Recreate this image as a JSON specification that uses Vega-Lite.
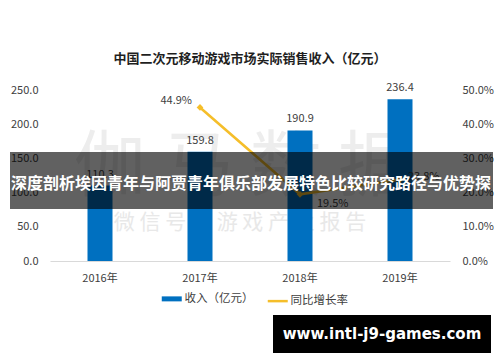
{
  "$schema": "https://vega.github.io/schema/vega-lite/v6.json",
  "width": 400,
  "height": 171,
  "autosize": "none",
  "padding": {"left": 50, "top": 90, "right": 50, "bottom": 101},
  "background": "white",
  "config": {
    "font": "Noto Sans CJK SC",
    "view": {"stroke": null},
    "axis": {"labelFont": "Noto Sans CJK SC", "labelFontSize": 11, "labelColor": "#404040", "grid": false, "ticks": false, "domain": false, "title": null, "labelOverlap": false}
  },
  "title": {"text": "中国二次元移动游戏市场实际销售收入（亿元）", "fontSize": 13, "fontWeight": "bold", "color": "#1f1f1f", "anchor": "middle", "offset": 16, "font": "Noto Sans CJK SC"},
  "data": {"values": [
    {"year": "2016年", "revenue": 110.3, "growth": null},
    {"year": "2017年", "revenue": 159.8, "growth": 0.449},
    {"year": "2018年", "revenue": 190.9, "growth": 0.195},
    {"year": "2019年", "revenue": 236.4, "growth": 0.238}
  ]},
  "layer": [
    {
      "data": {"values": [{}]},
      "mark": {"type": "text", "text": "伽 马 数 据", "fontSize": 72, "color": "#ededed", "align": "center", "baseline": "middle"},
      "encoding": {"x": {"value": 192}, "y": {"value": 78}}
    },
    {
      "data": {"values": [{}]},
      "mark": {"type": "text", "text": "微 信 号 ： 游 戏 产 业 报 告", "fontSize": 21, "color": "#e8e8e8", "align": "center", "baseline": "middle"},
      "encoding": {"x": {"value": 190}, "y": {"value": 133}}
    },
    {
      "layer": [
        {
          "mark": {"type": "bar", "size": 25},
          "encoding": {
            "x": {"field": "year", "type": "ordinal", "sort": null, "scale": {"paddingInner": 0, "paddingOuter": 0},
                  "axis": {"labelAngle": 0, "domain": true, "domainColor": "#d9d9d9", "domainWidth": 1, "labelPadding": 11, "labelFontSize": 11}},
            "y": {"field": "revenue", "type": "quantitative", "scale": {"domain": [0, 250], "nice": false},
                  "axis": {"orient": "left", "values": [0, 50, 100, 150, 200, 250], "format": ".1f", "labelPadding": 12, "labelOverlap": false, "labelFlush": false}},
            "color": {"datum": "收入（亿元）", "type": "nominal",
                      "scale": {"domain": ["收入（亿元）", "同比增长率"], "range": ["#0070C0", "#F5BE2A"]},
                      "legend": {"orient": "none", "legendX": 116, "legendY": 203, "direction": "horizontal", "title": null,
                                 "symbolType": "stroke", "symbolSize": 400, "symbolStrokeWidth": 2.5,
                                 "labelFontSize": 11.5, "labelColor": "#404040", "labelFont": "Noto Sans CJK SC",
                                 "columnPadding": 8, "labelOffset": 7,
                                 "encode": {"symbols": {"update": {
                                   "stroke": {"scale": "color", "field": "value"},
                                   "strokeWidth": {"signal": "datum.value === '收入（亿元）' ? 5 : 2.5"}}}}}}
          }
        },
        {
          "mark": {"type": "text", "baseline": "bottom", "dy": -6, "fontSize": 11, "color": "#404040"},
          "encoding": {
            "x": {"field": "year", "type": "ordinal", "sort": null,
                  "axis": {"labelAngle": 0, "domain": true, "domainColor": "#d9d9d9", "domainWidth": 1, "labelPadding": 11, "labelFontSize": 11}},
            "y": {"field": "revenue", "type": "quantitative", "scale": {"domain": [0, 250], "nice": false},
                  "axis": {"orient": "left", "values": [0, 50, 100, 150, 200, 250], "format": ".1f", "labelPadding": 12, "labelOverlap": false, "labelFlush": false}},
            "text": {"field": "revenue", "type": "quantitative", "format": ".1f"}
          }
        }
      ]
    },
    {
      "transform": [{"filter": "datum.growth != null"}],
      "encoding": {
        "x": {"field": "year", "type": "ordinal", "sort": null,
              "axis": {"labelAngle": 0, "domain": true, "domainColor": "#d9d9d9", "domainWidth": 1, "labelPadding": 11, "labelFontSize": 11}},
        "y": {"field": "growth", "type": "quantitative", "scale": {"domain": [0, 0.5], "nice": false},
              "axis": {"orient": "right", "values": [0, 0.1, 0.2, 0.3, 0.4, 0.5], "format": ".1%", "labelPadding": 12, "labelOverlap": false, "labelFlush": false}}
      },
      "layer": [
        {
          "mark": {"type": "line", "strokeWidth": 2.5, "point": {"shape": "diamond", "size": 45, "filled": true, "color": "#F5BE2A"}},
          "encoding": {
            "color": {"datum": "同比增长率", "type": "nominal"}
          }
        },
        {
          "transform": [{"filter": "datum.year === '2017年'"}],
          "mark": {"type": "text", "align": "right", "baseline": "middle", "dx": -8, "dy": -6, "fontSize": 11, "color": "#404040"},
          "encoding": {
            "text": {"field": "growth", "type": "quantitative", "format": ".1%"}
          }
        },
        {
          "transform": [{"filter": "datum.year === '2018年'"}],
          "mark": {"type": "text", "align": "left", "baseline": "middle", "dx": 17, "dy": 10, "fontSize": 11, "color": "#404040"},
          "encoding": {
            "text": {"field": "growth", "type": "quantitative", "format": ".1%"}
          }
        },
        {
          "transform": [{"filter": "datum.year === '2019年'"}],
          "mark": {"type": "text", "align": "left", "baseline": "middle", "dx": 8, "dy": -3, "fontSize": 11, "color": "#404040"},
          "encoding": {
            "text": {"field": "growth", "type": "quantitative", "format": ".1%"}
          }
        }
      ]
    },
    {
      "data": {"values": [{}]},
      "mark": {"type": "rect", "color": "#000000", "opacity": 0.62},
      "encoding": {"x": {"value": -40}, "x2": {"value": 443}, "y": {"value": 62}, "y2": {"value": 119}}
    },
    {
      "data": {"values": [{}]},
      "mark": {"type": "text", "text": "深度剖析埃因青年与阿贾青年俱乐部发展特色比较研究路径与优势探", "fontSize": 16, "fontWeight": "bold", "color": "#ffffff", "align": "center", "baseline": "middle"},
      "encoding": {"x": {"value": 201}, "y": {"value": 94}}
    },
    {
      "data": {"values": [{}]},
      "mark": {"type": "rect", "color": "#000000"},
      "encoding": {"x": {"value": 223}, "x2": {"value": 441}, "y": {"value": 225}, "y2": {"value": 263}}
    },
    {
      "data": {"values": [{}]},
      "mark": {"type": "text", "text": "www.intl-j9-games.com", "font": "DejaVu Sans", "fontSize": 15, "fontWeight": "bold", "color": "#ffffff", "align": "center", "baseline": "middle"},
      "encoding": {"x": {"value": 332}, "y": {"value": 244}}
    }
  ],
  "resolve": {"scale": {"y": "independent"}}
}
